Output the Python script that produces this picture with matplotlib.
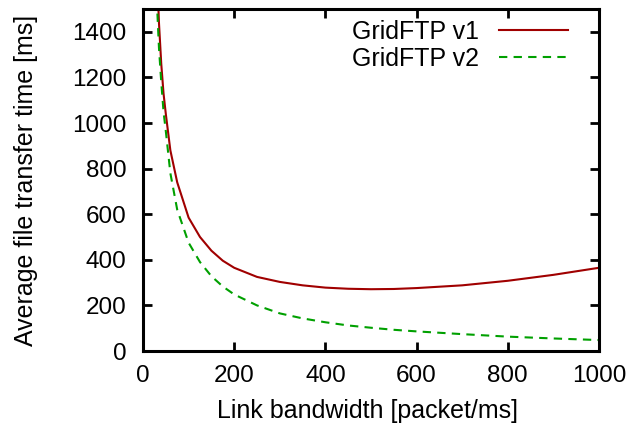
import matplotlib
matplotlib.use('Agg')
import matplotlib.pyplot as plt

# values
bandwidth = [30, 35, 40, 45, 50, 60, 75, 100, 125, 150, 175, 200, 250, 300,
             350, 400, 450, 500, 550, 600, 700, 800, 900, 1000]
gridftp_v1 = [1700, 1440, 1260, 1130, 1040, 880, 740, 585, 500, 440, 396, 365,
              325, 303, 288, 278, 273, 271, 272, 276, 288, 308, 334, 365]
gridftp_v2 = [1550, 1330, 1180, 1050, 965, 780, 620, 475, 390, 328, 283, 248,
              200, 165, 143, 126, 112, 102, 93, 86, 74, 63, 55, 48]

plt.rcParams['font.family'] = ['Liberation Sans', 'DejaVu Sans']
plt.rcParams['font.size'] = 18

fig = plt.figure(figsize=(6.4, 4.3), dpi=100)
ax = fig.add_axes([143 / 640, 1 - 351 / 430, (599 - 143) / 640, (351 - 9) / 430])

ax.plot(bandwidth, gridftp_v1, color='#a00000', lw=1.5, label='GridFTP v1')
ax.plot(bandwidth, gridftp_v2, color='#00a000', lw=1.5, dashes=(4, 3), label='GridFTP v2')

ax.set_xlim(0, 1000)
ax.set_ylim(0, 1500)
ax.set_xticks(range(0, 1001, 200))
ax.set_yticks(range(0, 1401, 200))
for s in ax.spines.values():
    s.set_linewidth(2.2)
ax.tick_params(direction='in', length=6.5, width=2, top=True, right=True, labelsize=17.5)
ax.tick_params(axis='x', pad=10)
ax.tick_params(axis='y', pad=12)

ax.set_xlabel('Link bandwidth [packet/ms]')
ax.set_ylabel('Average file transfer time [ms]')
ax.xaxis.set_label_coords(0.492, -0.14)
ax.yaxis.set_label_coords(-0.23, 0.5)

ax.legend(loc='upper right', bbox_to_anchor=(568 / 640, 1 - 20 / 430),
          bbox_transform=fig.transFigure, frameon=False, markerfirst=False,
          handlelength=2.75, handletextpad=0.8, labelspacing=0.1,
          borderpad=0, borderaxespad=0)

fig.savefig('out.png', dpi=100)
